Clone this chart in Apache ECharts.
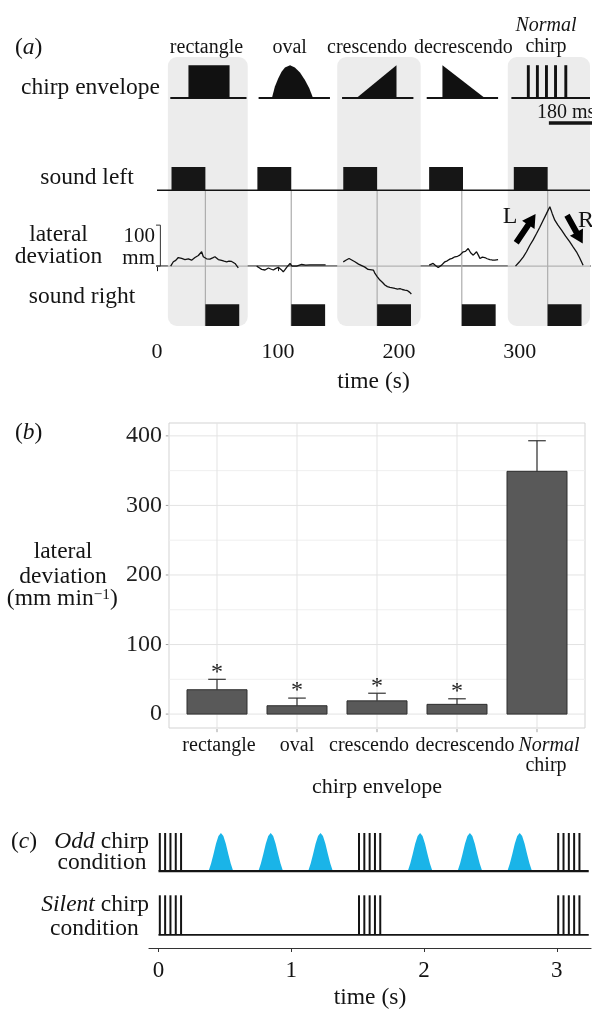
<!DOCTYPE html>
<html>
<head>
<meta charset="utf-8">
<title>chirp envelope and lateral deviation</title>
<script src="https://cdn.jsdelivr.net/npm/echarts@6/dist/echarts.min.js"></script>
<style>
html, body { margin: 0; padding: 0; background: #fff; }
#main { width: 592px; height: 1011px; }
</style>
</head>
<body>
<div id="main"></div>
<script>
// ---------- panel (a): stimulus protocol, time in s ----------
var stimNames = ['rectangle', 'oval', 'crescendo', 'decrescendo', 'chirp'];
var soundLeftOn = [12, 83, 154, 225, 295];
var soundRightOn = [40, 111, 182, 252, 323];
var soundDur = 28;
var shadedBlocks = [[9, 75], [149, 218], [290, 358]];
var envelopeSpan = [[11, 74], [84, 143], [153, 212], [223, 282], [293, 358]];
// envelope drawings: [time, relative amplitude]
var rectEnvelope = [[26, 0], [26, 1], [60, 1], [60, 0]];
var ovalEnvelope = [[95, 0], [97.5, 0.35], [100.3, 0.6], [103, 0.8], [105.8, 0.93], [110, 1],
  [114, 0.93], [118.2, 0.78], [122.3, 0.55], [125.9, 0.3], [129, 0]];
var crescEnvelope = [[165, 0], [198, 1], [198, 0]];
var decrescEnvelope = [[236, 0], [236, 1], [271, 0]];
var chirpPulses = [307, 314.5, 322, 329.5, 338];
// lateral deviation traces: [time s, deviation mm]
var traceRect = [[11.3, 0], [13.5, 10.6], [15.5, 14], [17.6, 21], [19, 19], [20.4, 18.7], [23.1, 16],
  [25.9, 17.9], [28.6, 14.6], [31.4, 21], [34.2, 26], [36.9, 35], [38.3, 22.8], [41, 17.9], [43.8, 17],
  [46, 20], [47.9, 22.8], [50.7, 16], [53.4, 13.8], [55.5, 12], [57.6, 10.6], [59.5, 12], [61.7, 11.4],
  [64.5, 6.5], [67.2, -4]];
var traceOval = [[82.4, 0], [84.5, -4], [86.5, -8], [89.3, -9.4], [92.1, -4.6], [94, -7], [96.2, -9.4],
  [98, -6], [100.3, -3], [102.5, -8], [104.4, -13.8], [106, -8], [107.2, -3], [110, 6.5], [111.5, 0],
  [112.7, -3], [115.5, 0], [119.6, 4], [123, 2.5], [126.4, 3], [131.9, 3.3], [139.4, 3.3]];
var traceCresc = [[154, 10.5], [156.5, 15], [158.8, 18.7], [161, 15], [163.6, 10.6], [166.6, 5], [168, 2.4],
  [171.9, -2.4], [174.5, -8], [176, -9.8], [179, -10], [180.2, -17.9], [182.2, -26], [184.3, -34],
  [186.5, -40], [188.4, -46], [190.5, -50], [192.6, -52], [194.7, -53], [196.7, -54.5], [198.8, -56],
  [200.9, -55], [202.8, -57], [204.9, -58.5], [207.2, -60], [209, -64], [210.3, -68]];
var traceDecresc = [[225, 2.4], [226.5, 5], [228.3, 6.5], [230.5, 1], [232.5, -3.3], [235.3, 2.4],
  [238, 10.6], [240, 13], [242.1, 17], [244, 19], [246.3, 22.8], [248.5, 24], [250.4, 26.8], [252, 30],
  [253.2, 35], [255, 36], [256, 39], [257.3, 43], [259.3, 32.5], [261.5, 26.8], [264.2, 35], [266, 25],
  [267, 18.7], [269, 22], [271, 21], [273, 18], [275.2, 16], [277, 15], [279.3, 14.6], [282, 16]];
var traceChirp = [[296.4, 0], [299.5, 10], [302.9, 22.8], [305.5, 35], [308.3, 51], [311, 64], [313.8, 79.7],
  [316.5, 95], [319.3, 112], [322, 128], [324.8, 145], [326.8, 128], [328.9, 112], [331.5, 100],
  [334.5, 88], [337.8, 73], [341.3, 59], [344, 47], [346.8, 35], [349.5, 20], [352.3, 2]];
var turnArrows = [[297, 57, 313, 127], [339, 124, 352, 55]];
var timeTicksA = [0, 100, 200, 300];

// ---------- panel (b): mean lateral deviation ----------
var envCats = ['rectangle', 'oval', 'crescendo', 'decrescendo', 'Normal chirp'];
var devMean = [35, 12, 19, 14, 349];
var devErrTop = [50, 23, 30, 22, 393];
var signif = ['*', '*', '*', '*', ''];
var devTicks = [0, 100, 200, 300, 400];
var devMinor = [50, 150, 250, 350];

// ---------- panel (c): odd / silent chirp conditions, time in s ----------
var chirpStarts = [0, 1.5, 3.0];
var pulseOffsets = [0.01, 0.05, 0.09, 0.13, 0.17];
var oddChirpPeaks = [0.47, 0.845, 1.22, 1.97, 2.345, 2.72];
var oddChirpWidth = 0.185;
var bumpProfile = [[-0.5, 0], [-0.4, 0.2], [-0.3, 0.45], [-0.2, 0.72], [-0.1, 0.92], [0, 1],
  [0.1, 0.92], [0.2, 0.72], [0.3, 0.45], [0.4, 0.2], [0.5, 0]];
var timeTicksC = [0, 1, 2, 3];
var recordEnd = 3.24;

// ---------- layout ----------
var SERIF = '"Liberation Serif", "Times New Roman", serif';
var INK = '#141414';
// rows of panel (a), on the mm scale of the trace
var A = { top: 510, envBase: 410, envTop: 490, leftBase: 185, leftTop: 241.5, rightBase: -146, rightTop: -92.7, end: 358 };
// rows of panel (c)
var C = { oddBase: 80.3, oddTop: 120, silBase: 13.7, silTop: 55 };
// panel (b) extent
var B = { xMin: -0.6, xMax: 4.6, yMin: -20, yMax: 418.5 };

function segSeries(axis, list, color, width, z) {
  return {
    type: 'custom', xAxisIndex: axis, yAxisIndex: axis, z: z || 3, silent: true,
    data: list,
    renderItem: function (params, api) {
      var a = api.coord([api.value(0), api.value(1)]),
          b = api.coord([api.value(2), api.value(3)]);
      return { type: 'line', shape: { x1: a[0], y1: a[1], x2: b[0], y2: b[1] },
        style: { stroke: color, lineWidth: width } };
    }
  };
}

function boxSeries(axis, list, fill, stroke, radius, z) {
  return {
    type: 'custom', xAxisIndex: axis, yAxisIndex: axis, z: z || 3, silent: true,
    data: list,
    renderItem: function (params, api) {
      var a = api.coord([api.value(0), api.value(1)]),
          b = api.coord([api.value(2), api.value(3)]);
      return {
        type: 'rect',
        shape: { x: Math.min(a[0], b[0]), y: Math.min(a[1], b[1]),
          width: Math.abs(b[0] - a[0]), height: Math.abs(b[1] - a[1]), r: radius || 0 },
        style: { fill: fill, stroke: stroke || null, lineWidth: stroke ? 1 : 0 }
      };
    }
  };
}

function polySeries(axis, shapes, base, top, fill, z) {
  return {
    type: 'custom', xAxisIndex: axis, yAxisIndex: axis, z: z || 3, silent: true,
    data: shapes.map(function (s) { return [s[0][0], base]; }),
    renderItem: function (params, api) {
      var pts = shapes[params.dataIndex].map(function (p) {
        return api.coord([p[0], base + p[1] * (top - base)]);
      });
      return { type: 'polygon', shape: { points: pts }, style: { fill: fill } };
    }
  };
}

function arrowSeries(axis, list) {
  return {
    type: 'custom', xAxisIndex: axis, yAxisIndex: axis, z: 6, silent: true,
    data: list,
    renderItem: function (params, api) {
      var a = api.coord([api.value(0), api.value(1)]),
          b = api.coord([api.value(2), api.value(3)]);
      var dx = b[0] - a[0], dy = b[1] - a[1], len = Math.sqrt(dx * dx + dy * dy);
      var ux = dx / len, uy = dy / len, nx = -uy, ny = ux;
      var hw = 3, hh = 7.5, hl = 13;
      var bx = b[0] - ux * hl, by = b[1] - uy * hl;
      var pts = [[a[0] + nx * hw, a[1] + ny * hw], [bx + nx * hw, by + ny * hw], [bx + nx * hh, by + ny * hh],
        [b[0], b[1]], [bx - nx * hh, by - ny * hh], [bx - nx * hw, by - ny * hw], [a[0] - nx * hw, a[1] - ny * hw]];
      return { type: 'polygon', shape: { points: pts }, style: { fill: '#000' } };
    }
  };
}

function traceSeries(data) {
  return {
    type: 'line', xAxisIndex: 0, yAxisIndex: 0, data: data, z: 5, silent: true,
    symbol: 'none', lineStyle: { color: '#111', width: 1.3 }
  };
}

function rich(size) {
  return {
    i: { fontStyle: 'italic', fontSize: size, fontFamily: SERIF, fill: INK },
    s: { fontSize: size * 0.65, fontFamily: SERIF, fill: INK, verticalAlign: 'top' }
  };
}

function label(x, y, text, size, align) {
  return {
    type: 'text', x: x, y: y, z: 100, silent: true,
    style: { text: text, font: size + 'px ' + SERIF, fill: INK,
      textAlign: align || 'center', textVerticalAlign: 'middle', rich: rich(size) }
  };
}

var pulsesAll = [];
chirpStarts.forEach(function (s) {
  pulseOffsets.forEach(function (o) {
    pulsesAll.push([s + o, C.oddBase, s + o, C.oddTop]);
    pulsesAll.push([s + o, C.silBase, s + o, C.silTop]);
  });
});
var oddBumps = oddChirpPeaks.map(function (pk) {
  return bumpProfile.map(function (p) { return [pk + p[0] * oddChirpWidth, p[1]]; });
});

// panel (b) grid lines and small ticks outside the panel
var gridLinesB = devTicks.map(function (v) { return [B.xMin, v, B.xMax, v]; });
envCats.forEach(function (c, i) { gridLinesB.push([i, B.yMin, i, B.yMax]); });
var minorLinesB = devMinor.map(function (v) { return [B.xMin, v, B.xMax, v]; });
var ticksB = devTicks.map(function (v) { return [B.xMin - 0.04, v, B.xMin - 0.008, v]; });
envCats.forEach(function (c, i) { ticksB.push([i, B.yMin - 1.5, i, B.yMin - 6]); });

var option = {
  animation: false,
  backgroundColor: '#fff',
  grid: [
    { left: 157, top: 57, width: 433, height: 269 },
    { left: 169, top: 423, width: 416, height: 305, show: true, borderColor: '#d3d3d3', borderWidth: 1, backgroundColor: '#fff' },
    { left: 149, top: 833, width: 442, height: 120 }
  ],
  xAxis: [
    {
      gridIndex: 0, type: 'value', min: 0, max: A.end,
      axisLine: { lineStyle: { color: INK, width: 1.5 } },
      axisTick: { length: 5, lineStyle: { color: INK }, customValues: timeTicksA },
      axisLabel: { customValues: timeTicksA, fontSize: 22, margin: 15, fontFamily: SERIF, color: INK },
      splitLine: { show: false },
      name: 'time (s)', nameLocation: 'middle', nameGap: 44,
      nameTextStyle: { fontSize: 23.5, fontFamily: SERIF, color: INK }
    },
    {
      gridIndex: 1, type: 'value', min: B.xMin, max: B.xMax,
      axisLine: { show: false }, axisTick: { show: false }, axisLabel: { show: false },
      splitLine: { show: false },
      name: 'chirp envelope', nameLocation: 'middle', nameGap: 48,
      nameTextStyle: { fontSize: 22, fontFamily: SERIF, color: INK }
    },
    {
      gridIndex: 2, type: 'value', min: -0.0715, max: 3.257,
      axisLine: { lineStyle: { color: '#333', width: 1.2 } },
      axisTick: { length: 4, lineStyle: { color: '#333' }, customValues: timeTicksC },
      axisLabel: { customValues: timeTicksC, fontSize: 23, margin: 11, fontFamily: SERIF, color: INK },
      splitLine: { show: false },
      name: 'time (s)', nameLocation: 'middle', nameGap: 38,
      nameTextStyle: { fontSize: 23.5, fontFamily: SERIF, color: INK }
    }
  ],
  yAxis: [
    { gridIndex: 0, type: 'value', min: A.rightBase, max: A.top, show: false },
    {
      gridIndex: 1, type: 'value', min: B.yMin, max: B.yMax,
      axisLine: { show: false }, axisTick: { show: false },
      axisLabel: { customValues: devTicks, fontSize: 24, margin: 7, fontFamily: SERIF, color: '#222' },
      splitLine: { show: false }
    },
    { gridIndex: 2, type: 'value', min: 0, max: 120, show: false }
  ],
  series: [
    // panel (a)
    boxSeries(0, shadedBlocks.map(function (b) { return [b[0], A.top, b[1], A.rightBase]; }), '#ececec', null, 9, 1),
    segSeries(0, [[0, 0, A.end, 0]], '#b3b3b3', 1.2, 2),
    segSeries(0, soundRightOn.map(function (t) { return [t, A.leftBase, t, A.rightBase]; }), '#adadad', 1.2, 2),
    segSeries(0, [[0, A.leftBase, A.end, A.leftBase]], INK, 1.6, 3),
    boxSeries(0, soundLeftOn.map(function (t) { return [t, A.leftBase, t + soundDur, A.leftTop]; }), '#161616', null, 0, 4),
    boxSeries(0, soundRightOn.map(function (t) { return [t, A.rightBase, t + soundDur, A.rightTop]; }), '#161616', null, 0, 4),
    segSeries(0, envelopeSpan.map(function (s) { return [s[0], A.envBase, s[1], A.envBase]; }), INK, 2, 3),
    polySeries(0, [rectEnvelope, ovalEnvelope, crescEnvelope, decrescEnvelope], A.envBase, A.envTop, '#111', 4),
    boxSeries(0, chirpPulses.map(function (p) { return [p - 1.2, A.envBase, p + 1.2, A.envTop]; }), '#111', null, 0, 4),
    traceSeries(traceRect), traceSeries(traceOval), traceSeries(traceCresc),
    traceSeries(traceDecresc), traceSeries(traceChirp),
    arrowSeries(0, turnArrows),
    segSeries(0, [[-0.8, 100, 2.8, 100], [2.8, 100, 2.8, 0], [-0.8, 0, 2.8, 0]], '#333', 1, 4),
    segSeries(0, [[324, 349, 360, 349]], INK, 3.5, 4),

    // panel (b)
    segSeries(1, minorLinesB, '#efefef', 1, 1),
    segSeries(1, gridLinesB, '#e3e3e3', 1, 1),
    segSeries(1, ticksB, '#a0a0a0', 1, 1),
    boxSeries(1, devMean.map(function (v, i) { return [i - 0.375, 0, i + 0.375, v]; }), '#595959', '#2e2e2e', 0, 3),
    segSeries(1, devMean.map(function (v, i) { return [i, v, i, devErrTop[i]]; }), '#333', 1.2, 3),
    segSeries(1, devErrTop.map(function (e, i) { return [i - 0.11, e, i + 0.11, e]; }), '#333', 1.2, 3),
    {
      type: 'custom', xAxisIndex: 1, yAxisIndex: 1, z: 4, silent: true,
      data: devErrTop.map(function (e, i) { return [i, e]; }),
      renderItem: function (params, api) {
        var p = api.coord([api.value(0), api.value(1)]);
        return { type: 'text', x: p[0], y: p[1] - 7,
          style: { text: signif[params.dataIndex], font: '24px ' + SERIF, fill: '#222',
            textAlign: 'center', textVerticalAlign: 'middle' } };
      }
    },

    // panel (c)
    segSeries(2, [[0, C.oddBase, recordEnd, C.oddBase]], INK, 2.2, 3),
    segSeries(2, [[0, C.silBase, recordEnd, C.silBase]], INK, 1.6, 3),
    segSeries(2, pulsesAll, INK, 2, 3),
    polySeries(2, oddBumps, C.oddBase, C.oddTop, '#1ab4e8', 2)
  ],
  graphic: { elements: [
    // panel (a)
    label(15, 48, '({i|a})', 23.5, 'left'),
    label(206.5, 47.5, stimNames[0], 20),
    label(289.7, 47.5, stimNames[1], 20),
    label(367, 47.5, stimNames[2], 20),
    label(463.3, 47.5, stimNames[3], 20),
    label(546, 25.5, '{i|Normal}', 20),
    label(546, 46.5, stimNames[4], 20),
    label(90.5, 88, 'chirp envelope', 23.5),
    label(537, 112.5, '180 ms', 20, 'left'),
    label(87, 177.7, 'sound left', 23.5),
    label(58.5, 235, 'lateral', 23.5),
    label(58.5, 257, 'deviation', 23.5),
    label(155, 236, '100', 21, 'right'),
    label(155, 258, 'mm', 21, 'right'),
    label(82, 297, 'sound right', 23.5),
    label(510, 217, 'L', 24),
    label(578, 220.5, 'R', 24, 'left'),
    // panel (b)
    label(15, 432.7, '({i|b})', 23.5, 'left'),
    label(63, 552, 'lateral', 23.5),
    label(63, 577, 'deviation', 23.5),
    label(62.3, 599, '(mm min{s|\u22121})', 23.5),
    label(219, 746, 'rectangle', 20),
    label(297, 746, 'oval', 20),
    label(369, 746, 'crescendo', 20),
    label(465, 746, 'decrescendo', 20),
    label(549, 746, '{i|Normal}', 20),
    label(546, 766, 'chirp', 20),
    // panel (c)
    label(11, 842, '({i|c})', 23.5, 'left'),
    label(149, 842, '{i|Odd} chirp', 23.5, 'right'),
    label(102, 863, 'condition', 23.5),
    label(149, 905.3, '{i|Silent} chirp', 23.5, 'right'),
    label(94.4, 928.7, 'condition', 23.5)
  ] }
};

var chart = echarts.init(document.getElementById('main'));
chart.setOption(option);
</script>
</body>
</html>
